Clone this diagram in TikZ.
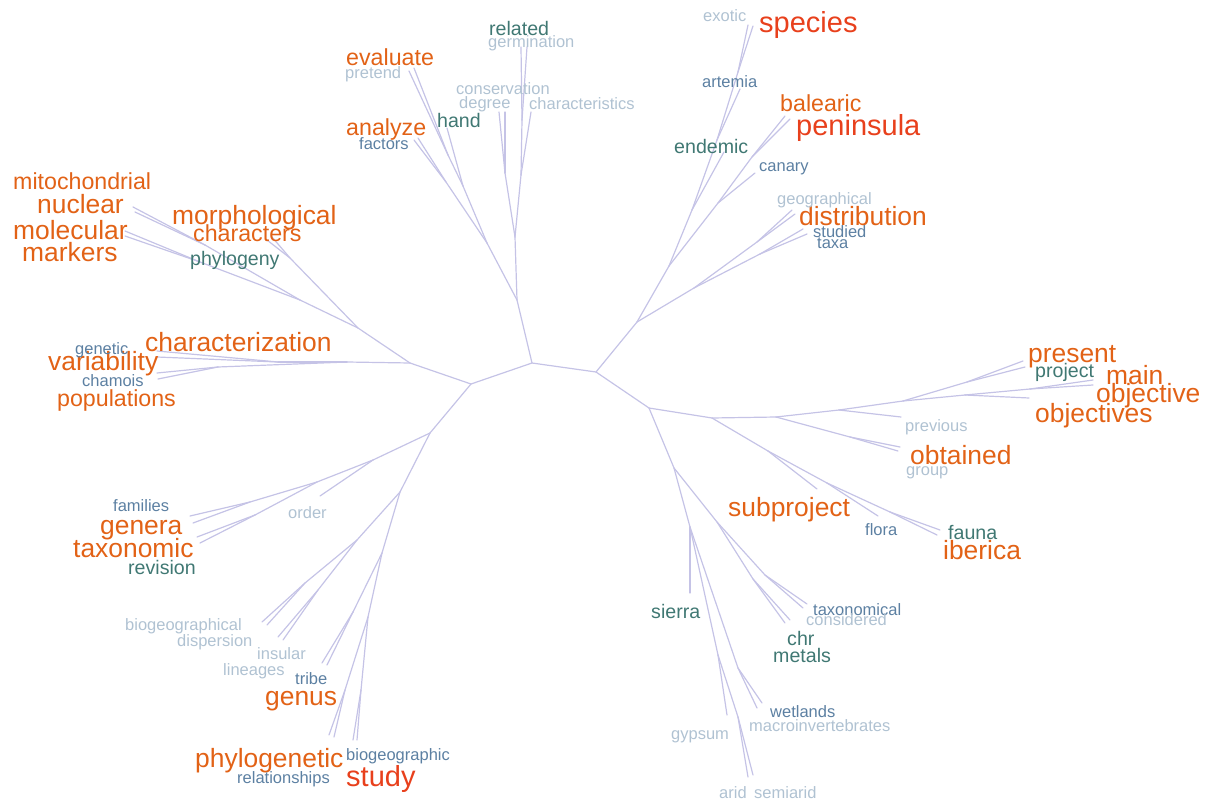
\documentclass[tikz,border=0pt]{standalone}
\usepackage{fontspec}
\setmainfont{Liberation Sans}
\definecolor{edgec}{RGB}{197,195,230}
\definecolor{cred}{RGB}{232,64,28}
\definecolor{corg}{RGB}{226,98,22}
\definecolor{cteal}{RGB}{64,120,115}
\definecolor{cblue}{RGB}{92,128,162}
\definecolor{clight}{RGB}{176,194,210}
\begin{document}
\begin{tikzpicture}[x=1pt,y=-1pt,
  edge/.style={draw=edgec,line width=1.2pt,line cap=round},
  w/.style={inner sep=0pt,anchor=base west,yshift=-2pt},
  wred/.style={w,yshift=-1pt,text=cred,font=\fontsize{29}{29}\selectfont},
  worgL/.style={w,text=corg,font=\fontsize{26.4}{26.4}\selectfont},
  worgM/.style={w,text=corg,font=\fontsize{23.2}{23.2}\selectfont},
  wteal/.style={w,text=cteal,font=\fontsize{19.6}{19.6}\selectfont},
  wblue/.style={w,text=cblue,font=\fontsize{16.5}{16.5}\selectfont},
  wlight/.style={w,text=clight,font=\fontsize{16.5}{16.5}\selectfont}]
\useasboundingbox (0,0) rectangle (1205,800);
% ---------- internal nodes ----------
\coordinate (A) at (532,363); \coordinate (B) at (596,372); \coordinate (C) at (471,384);
\coordinate (N1) at (517,300); \coordinate (N2) at (487,243); \coordinate (N3) at (515,237);
\coordinate (N4) at (463,186); \coordinate (N5) at (448,155); \coordinate (N6) at (446,182);
\coordinate (N7) at (505,173); \coordinate (N8) at (521,175); \coordinate (N9) at (522,120);
\coordinate (N10) at (637,322); \coordinate (N11) at (669,266); \coordinate (N12) at (694,288);
\coordinate (N13) at (692,210); \coordinate (N14) at (718,203); \coordinate (N15) at (717,140);
\coordinate (N16) at (738,72); \coordinate (N17) at (752,157); \coordinate (N18) at (757,242);
\coordinate (N19) at (760,254);
\coordinate (D) at (649,408); \coordinate (N20) at (712,418); \coordinate (N21) at (674,468);
\coordinate (N22) at (768,451); \coordinate (N23) at (776,417); \coordinate (N24) at (839,410);
\coordinate (N25) at (903,401); \coordinate (N26) at (967,382); \coordinate (N28) at (965,395);
\coordinate (N29) at (1030,389); \coordinate (N30) at (850,437); \coordinate (N27) at (827,483);
\coordinate (N31) at (890,512);
\coordinate (N32) at (690,527); \coordinate (N33) at (717,522); \coordinate (N34) at (765,575);
\coordinate (N35) at (753,579); \coordinate (N37) at (738,668); \coordinate (N38) at (718,655);
\coordinate (N39) at (738,717);
\coordinate (N40) at (430,433); \coordinate (N41) at (373,460); \coordinate (N42) at (400,492);
\coordinate (N44) at (317,482); \coordinate (N45) at (250,502); \coordinate (N46) at (255,515);
\coordinate (N47) at (357,540); \coordinate (N43) at (382,553); \coordinate (N57) at (305,583);
\coordinate (N58) at (318,590); \coordinate (N59) at (353,612); \coordinate (N48) at (368,617);
\coordinate (N60) at (345,690); \coordinate (N61) at (361,690);
\coordinate (N49) at (410,363); \coordinate (N50) at (347,362); \coordinate (N51) at (358,328);
\coordinate (N55) at (278,362); \coordinate (N56) at (218,367); \coordinate (N52) at (300,300);
\coordinate (N53) at (290,258); \coordinate (M1) at (205,245); \coordinate (M2) at (200,262);
% ---------- leaf ends ----------
\coordinate (lhand) at (447,128); \coordinate (lpretend) at (409,71); \coordinate (levaluate) at (414,68);
\coordinate (lanalyze) at (418,138); \coordinate (lfactors) at (414,140);
\coordinate (ldegree) at (499,112); \coordinate (lconservation) at (505,112);
\coordinate (lcharacteristics) at (531,112); \coordinate (lrelated) at (521,47); \coordinate (lgermination) at (527,47);
\coordinate (lendemic) at (724,152); \coordinate (lartemia) at (740,89); \coordinate (lexotic) at (748,25);
\coordinate (lspecies) at (753,26); \coordinate (lcanary) at (755,173); \coordinate (lbalearic) at (785,116);
\coordinate (lpeninsula) at (790,119); \coordinate (lgeographical) at (792,210); \coordinate (ldistribution) at (795,214);
\coordinate (lstudied) at (803,229); \coordinate (ltaxa) at (807,234);
\coordinate (lpresent) at (1023,361); \coordinate (lproject) at (1025,367); \coordinate (lmain) at (1093,380);
\coordinate (lobjective) at (1093,385); \coordinate (lobjectives) at (1029,398); \coordinate (lprevious) at (901,417);
\coordinate (lobtained) at (900,447); \coordinate (lgroup) at (898,451); \coordinate (lsubproject) at (817,489);
\coordinate (lflora) at (878,516); \coordinate (lfauna) at (940,530); \coordinate (liberica) at (937,535);
\coordinate (ltaxonomical) at (807,604); \coordinate (lconsidered) at (803,608); \coordinate (lchr) at (790,620);
\coordinate (lmetals) at (785,623); \coordinate (lsierra) at (690,593); \coordinate (lwetlands) at (762,703);
\coordinate (lmacro) at (757,708); \coordinate (lgypsum) at (727,715); \coordinate (larid) at (748,777);
\coordinate (lsemiarid) at (753,775);
\coordinate (lorder) at (320,496); \coordinate (lfamilies) at (190,516); \coordinate (lgenera) at (193,523);
\coordinate (ltaxonomic) at (197,537); \coordinate (lrevision) at (200,543);
\coordinate (lbiogeographical) at (262,622); \coordinate (ldispersion) at (267,625);
\coordinate (linsular) at (278,637); \coordinate (llineages) at (283,640);
\coordinate (ltribe) at (322,663); \coordinate (lgenus) at (327,665);
\coordinate (lphylogenetic) at (329,735); \coordinate (lrelationships) at (334,737);
\coordinate (lbiogeographic) at (353,740); \coordinate (lstudy) at (357,740);
\coordinate (lgenetic) at (157,351); \coordinate (lvariability) at (157,357);
\coordinate (lchamois) at (157,373); \coordinate (lpopulations) at (158,379);
\coordinate (lnuclear) at (133,207); \coordinate (lmito) at (135,212);
\coordinate (lmolecular) at (125,231); \coordinate (lmarkers) at (125,236);
\coordinate (lmorph) at (267,240); \coordinate (lcharacters) at (272,237);
% ---------- edges ----------
\foreach \p/\c in {A/B,A/C,A/N1,N1/N2,N1/N3,N2/N4,N2/N6,N4/lhand,N4/N5,N5/lpretend,N5/levaluate,
  N6/lanalyze,N6/lfactors,N3/N7,N3/N8,N7/ldegree,N7/lconservation,N8/lcharacteristics,N8/N9,
  N9/lrelated,N9/lgermination,
  B/N10,N10/N11,N10/N12,N11/N13,N11/N14,N13/lendemic,N13/N15,N15/lartemia,N15/N16,N16/lexotic,N16/lspecies,
  N14/lcanary,N14/N17,N17/lbalearic,N17/lpeninsula,N12/N18,N12/N19,N18/lgeographical,N18/ldistribution,
  N19/lstudied,N19/ltaxa,
  B/D,D/N20,D/N21,N20/N23,N20/N22,N23/N24,N23/N30,N30/lobtained,N30/lgroup,N24/lprevious,N24/N25,
  N25/N26,N26/lpresent,N26/lproject,N25/N28,N28/lobjectives,N28/N29,N29/lmain,N29/lobjective,
  N22/lsubproject,N22/N27,N27/lflora,N27/N31,N31/lfauna,N31/liberica,
  N21/N32,N21/N33,N33/N34,N33/N35,N34/ltaxonomical,N34/lconsidered,N35/lchr,N35/lmetals,
  N32/lsierra,N32/N37,N32/N38,N37/lwetlands,N37/lmacro,N38/lgypsum,N38/N39,N39/larid,N39/lsemiarid,
  C/N49,C/N40,N40/N41,N40/N42,N41/lorder,N41/N44,N44/N45,N44/N46,N45/lfamilies,N45/lgenera,
  N46/ltaxonomic,N46/lrevision,N42/N47,N42/N43,N47/N57,N47/N58,N57/lbiogeographical,N57/ldispersion,
  N58/linsular,N58/llineages,N43/N59,N43/N48,N59/ltribe,N59/lgenus,N48/N60,N48/N61,
  N60/lphylogenetic,N60/lrelationships,N61/lbiogeographic,N61/lstudy,
  N49/N50,N49/N51,N50/N55,N50/N56,N55/lgenetic,N55/lvariability,N56/lchamois,N56/lpopulations,
  N51/N52,N51/N53,N53/lmorph,N53/lcharacters,N52/M1,N52/M2,M1/lnuclear,M1/lmito,M2/lmolecular,M2/lmarkers}
  \draw[edge] (\p) -- (\c);
% ---------- labels ----------
\node[wred] (t-species) at (759,30) {species};
\node[wred] (t-peninsula) at (796,132) {peninsula};
\node[wred] (t-study) at (346,783) {study};
\node[worgL] (t-morph) at (172,222) {morphological};
\node[worgL] (t-nuclear) at (37,211) {nuclear};
\node[worgL] (t-molecular) at (13,237) {molecular};
\node[worgL] (t-markers) at (22,259) {markers};
\node[worgL] (t-characterization) at (145,349) {characterization};
\node[worgL] (t-variability) at (48,368) {variability};
\node[worgL] (t-distribution) at (799,223) {distribution};
\node[worgL] (t-present) at (1028,360) {present};
\node[worgL] (t-main) at (1106,382) {main};
\node[worgL] (t-objective) at (1096,400) {objective};
\node[worgL] (t-objectives) at (1035,420) {objectives};
\node[worgL] (t-obtained) at (910,462) {obtained};
\node[worgL] (t-subproject) at (728,514) {subproject};
\node[worgL] (t-iberica) at (943,557) {iberica};
\node[worgL] (t-genera) at (100,532) {genera};
\node[worgL] (t-taxonomic) at (73,555) {taxonomic};
\node[worgL] (t-genus) at (265,703) {genus};
\node[worgL] (t-phylogenetic) at (195,765) {phylogenetic};
\node[worgM] (t-mito) at (13,187) {mitochondrial};
\node[worgM] (t-characters) at (193,239) {characters};
\node[worgM] (t-evaluate) at (346,64) {evaluate};
\node[worgM] (t-analyze) at (346,133) {analyze};
\node[worgM] (t-balearic) at (780,109) {balearic};
\node[worgM] (t-populations) at (57,404) {populations};
\node[wteal] (t-related) at (489,34) {related};
\node[wteal] (t-hand) at (437,125) {hand};
\node[wteal] (t-endemic) at (674,151) {endemic};
\node[wteal] (t-phylogeny) at (190,263) {phylogeny};
\node[wteal] (t-revision) at (128,572) {revision};
\node[wteal] (t-sierra) at (651,616) {sierra};
\node[wteal] (t-chr) at (787,643) {chr};
\node[wteal] (t-metals) at (773,660) {metals};
\node[wteal] (t-project) at (1035,375) {project};
\node[wteal] (t-fauna) at (948,537) {fauna};
\node[wblue] (t-factors) at (359,147) {factors};
\node[wblue] (t-artemia) at (702,86) {artemia};
\node[wblue] (t-canary) at (759,169) {canary};
\node[wblue] (t-studied) at (813,235) {studied};
\node[wblue] (t-taxa) at (817,246) {taxa};
\node[wblue] (t-genetic) at (75,352) {genetic};
\node[wblue] (t-chamois) at (82,384) {chamois};
\node[wblue] (t-families) at (113,509) {families};
\node[wblue] (t-tribe) at (295,682) {tribe};
\node[wblue] (t-relationships) at (237,781) {relationships};
\node[wblue] (t-biogeographic) at (346,758) {biogeographic};
\node[wblue] (t-flora) at (865,533) {flora};
\node[wblue] (t-taxonomical) at (813,613) {taxonomical};
\node[wblue] (t-wetlands) at (770,715) {wetlands};
\node[wlight] (t-germination) at (488,46) {germination};
\node[wlight] (t-conservation) at (456,93) {conservation};
\node[wlight] (t-degree) at (459,106) {degree};
\node[wlight] (t-characteristics) at (529,108) {characteristics};
\node[wlight] (t-pretend) at (345,76) {pretend};
\node[wlight] (t-exotic) at (703,20) {exotic};
\node[wlight] (t-geographical) at (777,202) {geographical};
\node[wlight] (t-previous) at (905,429) {previous};
\node[wlight] (t-group) at (906,473) {group};
\node[wlight] (t-considered) at (806,623) {considered};
\node[wlight] (t-macro) at (749,729) {macroinvertebrates};
\node[wlight] (t-gypsum) at (671,737) {gypsum};
\node[wlight] (t-arid) at (719,796) {arid};
\node[wlight] (t-semiarid) at (754,796) {semiarid};
\node[wlight] (t-order) at (288,516) {order};
\node[wlight] (t-biogeographical) at (125,628) {biogeographical};
\node[wlight] (t-dispersion) at (177,644) {dispersion};
\node[wlight] (t-insular) at (257,657) {insular};
\node[wlight] (t-lineages) at (223,673) {lineages};
\end{tikzpicture}
\end{document}
